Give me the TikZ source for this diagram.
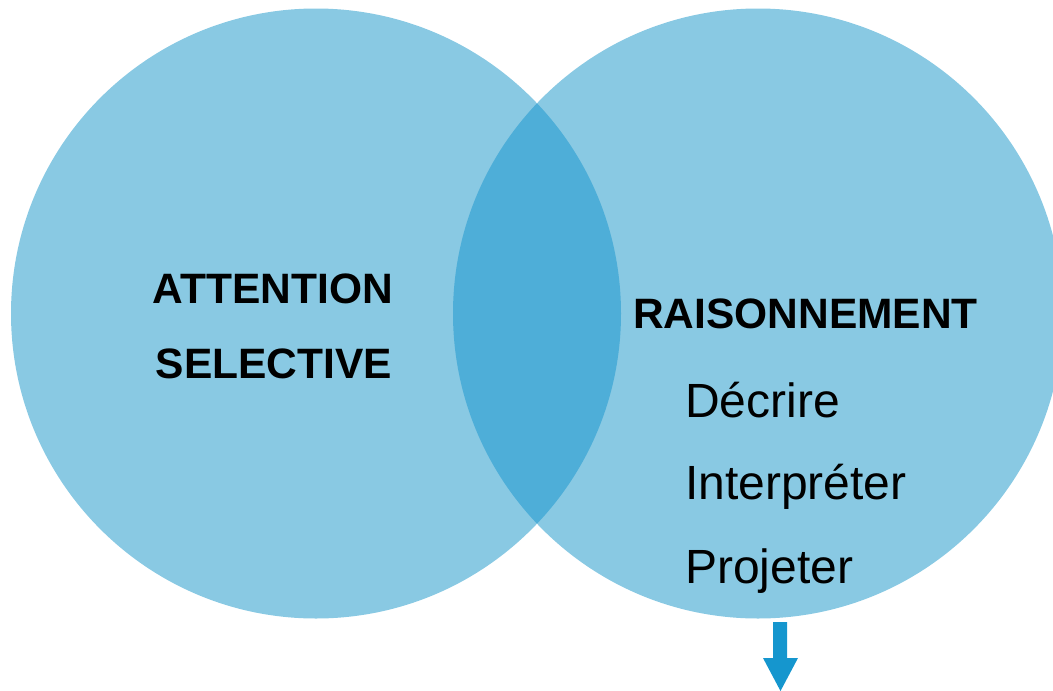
\documentclass[tikz,border=0pt]{standalone}
\usepackage{fontspec}
\setmainfont{Liberation Sans}
\usepackage{tikz}
\definecolor{setblue}{HTML}{89C9E3}
\definecolor{lensblue}{HTML}{4EAED8}
\definecolor{arrowblue}{HTML}{1596CE}
\begin{document}
\begin{tikzpicture}[x=1pt,y=-1pt]
	\useasboundingbox (0,0) rectangle (1053,691);
	\tikzset{
		title/.style={font=\fontsize{42.5}{46}\selectfont\bfseries,anchor=base,inner sep=0},
		item/.style={font=\fontsize{48}{52}\selectfont,anchor=base west,inner sep=0}
	}
	%CIRCLES
	\fill[setblue] (316,313.5) circle (305);
	\fill[setblue] (758,313.5) circle (305);
	\begin{scope}
		\clip (316,313.5) circle (305);
		\fill[lensblue] (758,313.5) circle (305);
	\end{scope}
	
	%LABELS
	\node[title] (att) at (273,303) {ATTENTION};
	\node[title] (sel) at (274,378) {SELECTIVE};
	\node[title] (rai) at (805.5,328) {RAISONNEMENT};
	%
	\node[item] (dec) at (685,417) {Décrire};
	\node[item] (int) at (685,499.5) {Interpréter};
	\node[item] (pro) at (685,583) {Projeter};
	
	%ARROW
	\fill[arrowblue] (773,622)--(787,622)--(787,658)--(798,658)--(780.5,691)--(763,658)--(773,658)--cycle;
\end{tikzpicture}
\end{document}
